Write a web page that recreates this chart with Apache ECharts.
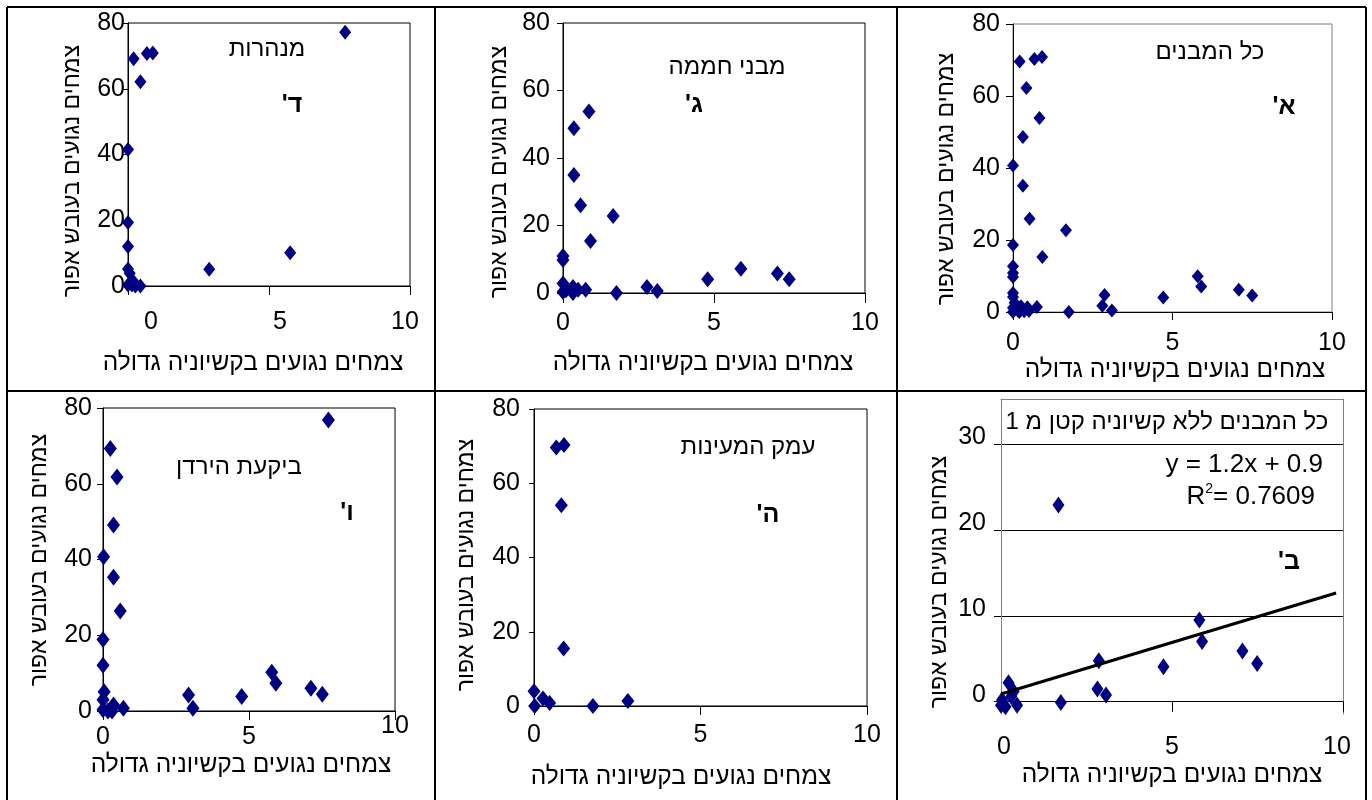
<!DOCTYPE html>
<html>
<head>
<meta charset="utf-8">
<script src="https://cdn.jsdelivr.net/npm/echarts@6/dist/echarts.min.js"></script>
<style>
  html, body { margin: 0; padding: 0; background: #fff; }
  #chart { width: 1372px; height: 800px; }
</style>
</head>
<body>
<div id="chart"></div>
<script>
// Tick values
const xTicks = [0, 5, 10];
const yTicks = [0, 20, 40, 60, 80];
const yTicksB = [0, 10, 20, 30];

// Axis titles
const xAxisTitle = 'צמחים נגועים בקשיוניה גדולה';
const yAxisTitle = 'צמחים נגועים בעובש אפור';

// א' – all buildings
const allBuildings = [
  [0.21, 69.6], [0.67, 70.3], [0.91, 70.8], [0.42, 62.2], [0.83, 53.9], [0.31, 48.6],
  [0, 40.7], [0.31, 35.1], [0.52, 25.9], [1.66, 22.7], [0, 18.6], [0.92, 15.3],
  [0, 12.7], [0, 10.8], [0, 9.7], [0, 5.3], [0, 4.2], [0.05, 2.6], [0, 1.2], [0, 0],
  [0.15, 0.4], [0.25, 1.6], [0.35, 0.2], [0.45, 1.3], [0.5, 0.3], [0.2, 0],
  [0.75, 1.4], [1.75, 0], [2.87, 4.7], [2.8, 1.75], [3.1, 0.45], [4.71, 4.05],
  [5.79, 9.9], [5.9, 7.1], [7.08, 6.2], [7.5, 4.6]
];

// ב' – all buildings, subset with trend line
const subsetB = [
  [1.68, 22.9], [5.8, 9.5], [5.88, 7.0], [7.06, 5.9], [7.49, 4.46], [4.75, 4.07],
  [2.86, 4.77], [2.82, 1.48], [3.07, 0.78], [1.75, -0.1], [0.22, 2.2], [0.37, 1.2],
  [0.03, 0.2], [0, -0.4], [0.13, -0.6], [0.47, -0.4], [0.3, 0.6]
];

// ג' – greenhouses
const greenhouses = [
  [0.86, 53.8], [0.36, 48.8], [0.36, 35.0], [0.58, 26.0], [1.66, 22.8], [0.91, 15.4],
  [0, 11], [0, 9.8], [0, 2.8], [0, 0.3], [0.33, 1.8], [0.33, 0], [0.5, 1], [0.75, 1],
  [0.1, 0.8], [1.77, 0], [2.78, 1.8], [3.12, 0.6], [4.79, 4.07], [5.89, 7.2],
  [7.1, 5.75], [7.49, 4.07]
];

// ד' – tunnels
const tunnels = [
  [0.2, 69.1], [0.67, 70.7], [0.88, 70.9], [0.44, 62.1], [0, 41.5], [0, 19.3],
  [0, 12], [0, 5.2], [0.06, 3.9], [0, 0.3], [0.14, 0.3], [0.2, 1.3], [0.26, 0],
  [0.44, 0], [2.88, 5.1], [5.75, 10.1], [7.7, 77.2]
];

// ה' – Emek HaMaayanot
const springsValley = [
  [0.67, 69.6], [0.9, 70.3], [0.82, 54.1], [0.89, 15.5], [0, 4.0], [0.02, 0],
  [0.27, 2.0], [0.47, 0.8], [1.77, 0], [2.82, 1.35]
];

// ו' – Jordan Valley
const jordanValley = [
  [7.72, 76.8], [0.25, 69.3], [0.48, 61.8], [0.36, 49.1], [0.02, 40.7], [0.36, 35.3],
  [0.59, 26.4], [0, 18.9], [0, 12.1], [0.04, 5.1], [0, 3.0], [0, 0.3], [0.17, 0],
  [0.31, 0], [0.36, 1.6], [0.7, 0.7], [2.93, 4.2], [3.08, 0.7], [4.75, 3.8],
  [5.78, 10.2], [5.92, 7.3], [7.12, 6.0], [7.51, 4.4]
];

// Linear trend for panel ב'
const trendSlope = 1.2;
const trendIntercept = 0.9;
const trendXRange = [0, 9.8];
const trendEquation = 'y = 1.2x + 0.9';
const trendR2 = ['R', '2', '= 0.7609'];

const FONT = '"Liberation Sans", Arial, "DejaVu Sans", sans-serif';
const NAVY = '#000080';
const rtl = s => '\u202B' + s + '\u202C';

// Panel layout: grid box [left, top, width, height] and text positions
const panels = [
  { data: tunnels, box: [128, 23, 282, 263], frame: '#000', sym: [12, 15],
    xTick: 9, yTick: 5, xMargin: 24, yMargin: 3, xShift: [[23, 0], [11, 0], [-5, 0]],
    title: ['מנהרות', 267, 49, 24], letter: ["ד'", 292, 105], xName: [253, 363], yName: [73, 171] },
  { data: greenhouses, box: [563, 23, 302, 270], frame: '#000', sym: [13, 16],
    xTick: 10, yTick: 6, xMargin: 18, yMargin: 13,
    title: ['מבני חממה', 727, 67, 24], letter: ["ג'", 694, 105], xName: [703, 363], yName: [500, 172] },
  { data: allBuildings, box: [1013, 24, 319, 288], frame: '#808080', sym: [12, 14],
    xTick: 8, yTick: 7, xMargin: 19, yMargin: 13,
    title: ['כל המבנים', 1210, 52, 24], letter: ["א'", 1284, 107], xName: [1175, 370], yName: [947, 179] },
  { data: jordanValley, box: [103, 408, 292, 303], frame: '#000', sym: [13, 17],
    xTick: 9, yTick: 6, xMargin: 3, yMargin: 11, xShift: [[0, 11], [0, 11], [0, 0]],
    title: ['ביקעת הירדן', 239, 467, 24], letter: ["ו'", 347, 513], xName: [241, 765], yName: [40, 560] },
  { data: springsValley, box: [534, 409, 333, 297], frame: '#000', sym: [13, 16],
    xTick: 9, yTick: 5, xMargin: 17, yMargin: 14,
    title: ['עמק המעינות', 748, 447, 24], letter: ["ה'", 768, 515], xName: [681, 777], yName: [467, 565] },
  { data: subsetB, box: [1001, 399, 342, 315], frame: '#808080', sym: [12, 17],
    xTick: 10, yTick: 7, xMargin: 21, yMargin: 15, yRange: [-1.43, 35.24], yCustom: yTicksB,
    xShift: [[3, 0], [0, 0], [-6, 0]],
    yLabelLift: 7, openFrame: true, trend: true,
    title: ['כל המבנים ללא קשיוניה קטן מ 1', 1167, 422, 24], letter: ["ב'", 1289, 562],
    xName: [1172, 775], yName: [940, 582] }
];

const grids = [], xAxes = [], yAxes = [], series = [], graphics = [];
const extraX = [], extraY = [];

const textEl = (str, x, y, font, rot) => ({
  type: 'text', x: x, y: y, rotation: rot || 0, z: 10,
  style: { text: rtl(str), font: font, fill: '#000',
    align: 'center', verticalAlign: 'middle', textAlign: 'center', textVerticalAlign: 'middle' }
});

panels.forEach((p, i) => {
  grids.push({
    left: p.box[0], top: p.box[1], width: p.box[2], height: p.box[3],
    show: !p.openFrame, borderColor: p.frame, borderWidth: 1, backgroundColor: 'transparent'
  });

  let rich;
  if (p.xShift) {
    rich = {};
    p.xShift.forEach(([dx, dy], k) => {
      rich['t' + k] = {
        fontSize: 25, fontFamily: FONT, color: '#000',
        padding: [dy, Math.max(0, -2 * dx), 0, Math.max(0, 2 * dx)]
      };
    });
  }
  xAxes.push({
    type: 'value', gridIndex: i, min: xTicks[0], max: xTicks[xTicks.length - 1], interval: 5,
    axisLine: { show: true, lineStyle: { color: '#000', width: 1 } },
    axisTick: { show: true, length: p.xTick, lineStyle: { color: '#000', width: 1 } },
    splitLine: { show: false },
    axisLabel: {
      margin: p.xMargin, fontSize: 25, fontFamily: FONT, color: '#000',
      formatter: p.xShift ? (v => '{t' + xTicks.indexOf(v) + '|' + v + '}') : '{value}',
      rich: rich
    }
  });

  const yAxis = {
    type: 'value', gridIndex: i,
    axisLine: { show: true, lineStyle: { color: p.openFrame ? '#808080' : '#000', width: 1 } },
    axisTick: { show: true, length: p.yTick, lineStyle: { color: '#000', width: 1 } },
    splitLine: { show: false },
    axisLabel: { margin: p.yMargin, fontSize: 25, fontFamily: FONT, color: '#000' }
  };
  if (p.yCustom) {
    yAxis.min = p.yRange[0];
    yAxis.max = p.yRange[1];
    yAxis.axisTick.customValues = p.yCustom;
    yAxis.axisLabel.customValues = p.yCustom;
    yAxis.axisLabel.formatter = '{u|{value}}';
    yAxis.axisLabel.rich = {
      u: { fontSize: 25, fontFamily: FONT, color: '#000', padding: [0, 0, 2 * p.yLabelLift, 0] }
    };
    yAxis.splitLine = { show: true, lineStyle: { color: '#000', width: 1 } };
  } else {
    yAxis.min = yTicks[0];
    yAxis.max = yTicks[yTicks.length - 1];
    yAxis.interval = 20;
  }
  yAxes.push(yAxis);

  if (p.openFrame) {
    extraX.push({
      type: 'value', gridIndex: i, position: 'top', min: xTicks[0], max: xTicks[xTicks.length - 1],
      axisLine: { show: true, onZero: false, lineStyle: { color: p.frame, width: 1 } },
      axisTick: { show: false }, axisLabel: { show: false }, splitLine: { show: false }
    });
    extraY.push({
      type: 'value', gridIndex: i, position: 'right', min: p.yRange[0], max: p.yRange[1],
      axisLine: { show: true, onZero: false, lineStyle: { color: p.frame, width: 1 } },
      axisTick: { show: false }, axisLabel: { show: false }, splitLine: { show: false }
    });
  }

  series.push({
    type: 'scatter', xAxisIndex: i, yAxisIndex: i, data: p.data,
    symbol: 'diamond', symbolSize: p.sym, clip: false,
    itemStyle: { color: NAVY, opacity: 1 }, z: 3
  });

  if (p.trend) {
    series.push({
      type: 'line', xAxisIndex: i, yAxisIndex: i,
      data: trendXRange.map(x => [x, trendSlope * x + trendIntercept]),
      symbol: 'none', clip: false,
      lineStyle: { color: '#000', width: 3 }, z: 4
    });
    graphics.push({
      type: 'text', x: 1323, y: 465, z: 10,
      style: { text: trendEquation, font: '26px ' + FONT, fill: '#000',
        align: 'right', verticalAlign: 'middle', textAlign: 'right', textVerticalAlign: 'middle' }
    });
    graphics.push({
      type: 'text', x: 1315, y: 497, z: 10,
      style: {
        text: '{r|' + trendR2[0] + '}{s|' + trendR2[1] + '}{r|' + trendR2[2] + '}',
        fill: '#000', align: 'right', verticalAlign: 'middle', textAlign: 'right', textVerticalAlign: 'middle',
        rich: {
          r: { font: '26px ' + FONT, fill: '#000', color: '#000' },
          s: { font: '14px ' + FONT, fill: '#000', color: '#000', padding: [0, 0, 16, 0] }
        }
      }
    });
  }

  graphics.push(textEl(p.title[0], p.title[1], p.title[2], p.title[3] + 'px ' + FONT));
  graphics.push(textEl(p.letter[0], p.letter[1], p.letter[2], 'bold 25px ' + FONT));
  graphics.push(textEl(xAxisTitle, p.xName[0], p.xName[1], '24.5px ' + FONT));
  graphics.push(textEl(yAxisTitle, p.yName[0], p.yName[1], '23px ' + FONT, Math.PI / 2));
});

// Table rules separating the six panels
const tableRules = [
  [7, 7, 1366, 7], [7, 391, 1366, 391],
  [7, 7, 7, 800], [435, 7, 435, 800], [897, 7, 897, 800], [1366, 7, 1366, 800]
];
tableRules.forEach(([x1, y1, x2, y2]) => {
  graphics.push({
    type: 'line', z: 20,
    shape: { x1: x1, y1: y1, x2: x2, y2: y2 },
    style: { stroke: '#000', lineWidth: 2 }
  });
});

const chart = echarts.init(document.getElementById('chart'), null, { renderer: 'canvas' });
chart.setOption({
  animation: false,
  backgroundColor: '#fff',
  textStyle: { fontFamily: FONT },
  grid: grids,
  xAxis: xAxes.concat(extraX),
  yAxis: yAxes.concat(extraY),
  series: series,
  graphic: { elements: graphics }
});
</script>
</body>
</html>
